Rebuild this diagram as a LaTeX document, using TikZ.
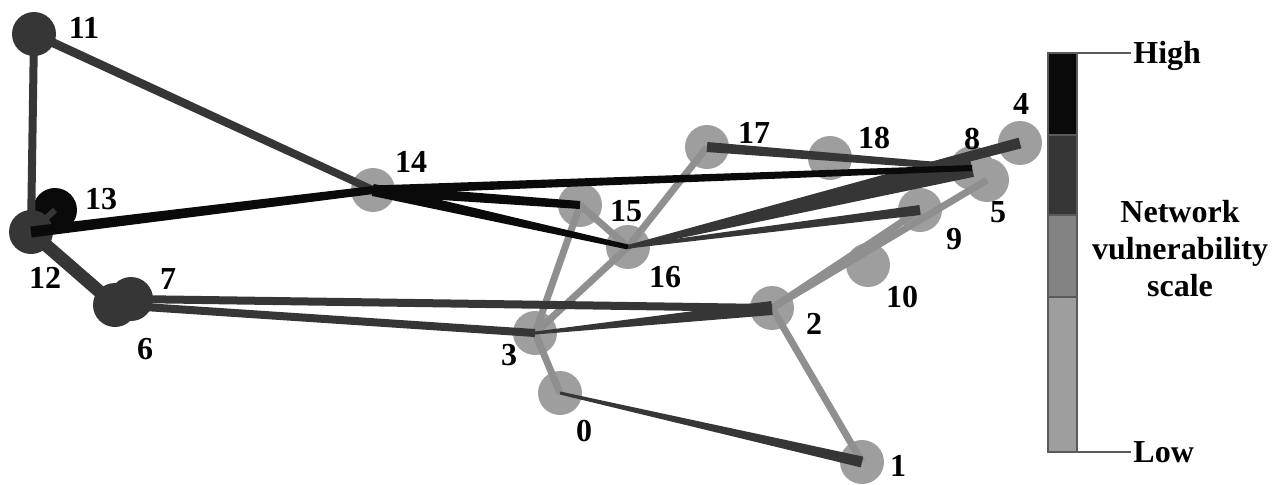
\documentclass[tikz,border=0pt]{standalone}
\usepackage{fontspec}
\setmainfont{Liberation Serif}
\usetikzlibrary{calc}

\definecolor{vblack}{HTML}{0A0A0A}
\definecolor{vdark}{HTML}{363636}
\definecolor{vmid}{HTML}{838383}
\definecolor{vlight}{HTML}{9E9E9E}
\definecolor{elight}{HTML}{8F8F8F}
\definecolor{frame}{HTML}{5A5A5A}

% wedge-shaped link: from, to, half width at start, half width at end, colour
\newcommand\taperedge[5]{%
  \fill[#5] ($(#1.center)!#3!90:(#2.center)$) -- ($(#2.center)!#4!-90:(#1.center)$)
    -- ($(#2.center)!#4!90:(#1.center)$) -- ($(#1.center)!#3!-90:(#2.center)$) -- cycle;}

\begin{document}
\begin{tikzpicture}[x=0.5pt,y=-0.5pt,
  vnode/.style={circle, minimum size=22pt, inner sep=0pt, draw=none},
  lightnode/.style={vnode, fill=vlight},
  darknode/.style={vnode, fill=vdark},
  blacknode/.style={vnode, fill=vblack},
  lbl/.style={font=\fontsize{16}{16}\selectfont\bfseries, inner sep=0pt},
  lightlink/.style={elight, line width=3.5pt},
  darklink/.style={vdark, line width=4pt},
  blacklink/.style={vblack, line width=4pt},
  tick/.style={frame, line width=0.6pt}]

\useasboundingbox (0,0) rectangle (1279,484);

% ---- vertices ----
\node[darknode]  (n11) at (34,34) {};
\node[blacknode] (n13) at (55,210) {};
\node[darknode]  (n12) at (31,232) {};
\node[darknode]  (n6)  at (115,305) {};
\node[darknode]  (n7)  at (131,299) {};
\node[lightnode] (n14) at (373,190) {};
\node[lightnode] (n15) at (580,205) {};
\node[lightnode] (n16) at (628,247) {};
\node[lightnode] (n17) at (707,147) {};
\node[lightnode] (n18) at (830,158) {};
\node[lightnode] (n8)  at (972,168) {};
\node[lightnode] (n5)  at (987,180) {};
\node[lightnode] (n4)  at (1020,143) {};
\node[lightnode] (n9)  at (920,210) {};
\node[lightnode] (n10) at (868,265) {};
\node[lightnode] (n2)  at (772,308) {};
\node[lightnode] (n3)  at (535,333) {};
\node[lightnode] (n0)  at (560,393) {};
\node[lightnode] (n1)  at (862,462) {};

% ---- light links ----
\draw[lightlink] (n3.center) -- (n15.center);
\draw[lightlink] (n3.center) -- (n16.center);
\draw[lightlink] (n3.center) -- (n0.center);
\draw[lightlink] (n2.center) -- (n1.center);
\draw[lightlink] (n15.center) -- (n16.center);
\draw[lightlink] (n16.center) -- (n17.center);
\draw[lightlink] (n2.center) -- (n9.center);
\draw[lightlink] (n2.center) -- (n5.center);

% ---- dark links ----
\draw[darklink] (n11.center) -- (n12.center);
\taperedge{n11}{n14}{2.25pt}{1.9pt}{vdark}
\draw[darklink, line width=3pt] (n12.center) -- (n13.center);
\draw[darklink, line width=6.5pt] (n12.center) -- (n6.center);
\draw[darklink] (n7.center) -- (n2.center);
\draw[darklink] (n6.center) -- (n3.center);
\taperedge{n3}{n2}{0.75pt}{3.5pt}{vdark}
\taperedge{n0}{n1}{0.75pt}{2.75pt}{vdark}
\taperedge{n17}{n8}{2.5pt}{1.5pt}{vdark}
\taperedge{n16}{n8}{1pt}{4.5pt}{vdark}
\taperedge{n16}{n4}{1pt}{2.75pt}{vdark}
\taperedge{n16}{n9}{0.75pt}{2.5pt}{vdark}

% ---- black links ----
\taperedge{n12}{n14}{2.75pt}{2pt}{vblack}
\taperedge{n14}{n8}{2.25pt}{1.5pt}{vblack}
\taperedge{n14}{n15}{2.75pt}{2pt}{vblack}
\taperedge{n14}{n16}{3pt}{1.25pt}{vblack}

% ---- vertex labels ----
\node[lbl] (l11) at (84,28) {11};
\node[lbl] (l13) at (101,199) {13};
\node[lbl] (l12) at (45,278) {12};
\node[lbl] (l7)  at (168,279) {7};
\node[lbl] (l6)  at (145,349) {6};
\node[lbl] (l14) at (411,162) {14};
\node[lbl] (l15) at (626,211) {15};
\node[lbl] (l16) at (665,277) {16};
\node[lbl] (l17) at (754,133) {17};
\node[lbl] (l18) at (874,138) {18};
\node[lbl] (l8)  at (972,139) {8};
\node[lbl] (l4)  at (1021,104) {4};
\node[lbl] (l5)  at (998,212) {5};
\node[lbl] (l9)  at (954,239) {9};
\node[lbl] (l10) at (902,297) {10};
\node[lbl] (l2)  at (814,324) {2};
\node[lbl] (l3)  at (509,355) {3};
\node[lbl] (l0)  at (584,431) {0};
\node[lbl] (l1)  at (898,466) {1};

% ---- vulnerability scale ----
\fill[vblack] (1048,53) rectangle (1077,135);
\fill[vdark]  (1048,135) rectangle (1077,215);
\fill[vmid]   (1048,215) rectangle (1077,297);
\fill[vlight] (1048,297) rectangle (1077,452);
\draw[tick] (1048,135) -- (1077,135) (1048,215) -- (1077,215) (1048,297) -- (1077,297);
\draw[tick] (1048,53) rectangle (1077,452);

\coordinate (bartop) at (1077,53);
\coordinate (barbot) at (1077,452);
\node[lbl, anchor=west, inner sep=1pt] (high) at (1131,56) {High};
\node[lbl, anchor=west, inner sep=1pt] (low)  at (1131,452) {Low};
\draw[tick] (bartop) -- (bartop -| high.west);
\draw[tick] (barbot) -- (barbot -| low.west);
\node[lbl, align=center, font=\fontsize{16}{18.5}\selectfont\bfseries] (scale) at (1180,249)
  {Network\\vulnerability\\scale};
\end{tikzpicture}
\end{document}
